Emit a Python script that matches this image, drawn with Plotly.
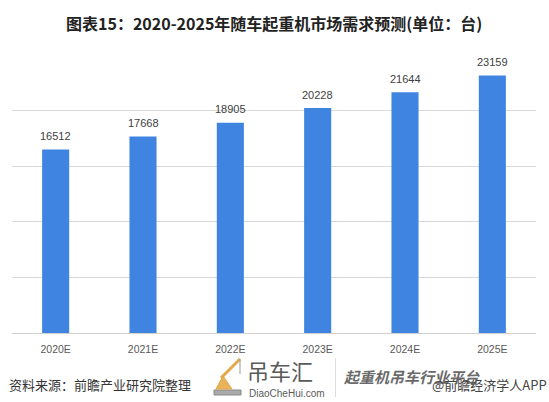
import plotly.graph_objects as go

categories = ["2020E", "2021E", "2022E", "2023E", "2024E", "2025E"]
values = [16512, 17668, 18905, 20228, 21644, 23159]
title_text = "图表15：2020-2025年随车起重机市场需求预测(单位：台)"
source_text = "资料来源：前瞻产业研究院整理"

FONT = "Noto Sans CJK SC"
L, R, T, B = 12, 13, 55, 69
W, H = 549, 402

fig = go.Figure()
fig.add_trace(go.Bar(
    x=categories, y=values,
    marker=dict(color="#3f84e0", line=dict(width=0)),
    width=0.31, hoverinfo="x+y",
))

for c, v in zip(categories, values):
    fig.add_annotation(x=c, y=v, xref="x", yref="y", text=str(v), showarrow=False,
                       yanchor="middle", yshift=13.5,
                       font=dict(family="Liberation Sans, Arial", size=11, color="#404040"))

fig.update_layout(
    width=W, height=H,
    margin=dict(l=L, r=R, t=T, b=B),
    paper_bgcolor="white", plot_bgcolor="white",
    showlegend=False,
    xaxis=dict(showgrid=False, showline=False, ticks="", ticklabelstandoff=8,
               tickfont=dict(family="Liberation Sans, Arial", size=10.5, color="#595959")),
    yaxis=dict(range=[0, 25000], dtick=5000, showgrid=True, gridcolor="#d9d9d9", gridwidth=1,
               showticklabels=False, zeroline=True, zerolinecolor="#d0d0d0", zerolinewidth=1),
    font=dict(family=FONT),
)

def px_x(x):
    return (x - L) / (W - L - R)

def px_y(y):
    return (H - B - y) / (H - T - B)

fig.add_annotation(text="<b>" + title_text + "</b>", x=px_x(274), y=px_y(23), xref="paper", yref="paper",
                   xanchor="center", yanchor="middle", showarrow=False,
                   font=dict(family=FONT, size=16, color="#222222"))

fig.add_annotation(text=source_text, x=px_x(7), y=px_y(384), xref="paper", yref="paper",
                   xanchor="left", yanchor="middle", showarrow=False,
                   font=dict(family=FONT, size=13, color="#333333"))
fig.add_annotation(text="吊车汇", x=px_x(245), y=px_y(370), xref="paper", yref="paper",
                   xanchor="left", yanchor="middle", showarrow=False,
                   font=dict(family=FONT, size=22, color="#5a5a5a"))
fig.add_annotation(text="DiaoCheHui.com", x=px_x(247), y=px_y(393), xref="paper", yref="paper",
                   xanchor="left", yanchor="middle", showarrow=False,
                   font=dict(family="Liberation Sans, Arial", size=10, color="#5a5a5a"))
fig.add_annotation(text="<i><b>起重机吊车行业平台</b></i>", x=px_x(342), y=px_y(376), xref="paper", yref="paper",
                   xanchor="left", yanchor="middle", showarrow=False,
                   font=dict(family=FONT, size=15, color="#6a6a6a"))
fig.add_annotation(text="@前瞻经济学人APP", x=px_x(549), y=px_y(384), xref="paper", yref="paper",
                   xanchor="right", yanchor="middle", showarrow=False,
                   font=dict(family=FONT, size=13, color="#444444"))
# separator line
fig.add_shape(type="line", x0=px_x(335.5), x1=px_x(335.5), y0=px_y(358), y1=px_y(397),
              xref="paper", yref="paper", line=dict(color="#dddddd", width=1))
# simple crane icon
fig.add_shape(type="rect", x0=px_x(214), x1=px_x(241), y0=px_y(395), y1=px_y(390),
              xref="paper", yref="paper", line=dict(color="#888888", width=1), fillcolor="#aaaaaa")
fig.add_shape(type="path", path="M {0} {1} L {2} {3} L {4} {5} Z".format(px_x(216), px_y(389), px_x(232), px_y(389), px_x(223), px_y(376)),
              xref="paper", yref="paper", line=dict(color="#e3a84a", width=1), fillcolor="#e8b35a")
fig.add_shape(type="line", x0=px_x(221), x1=px_x(240), y0=px_y(378), y1=px_y(359),
              xref="paper", yref="paper", line=dict(color="#e3a84a", width=3))
fig.add_shape(type="line", x0=px_x(240), x1=px_x(240), y0=px_y(359), y1=px_y(374),
              xref="paper", yref="paper", line=dict(color="#999999", width=1))

fig.write_html("out.html")
